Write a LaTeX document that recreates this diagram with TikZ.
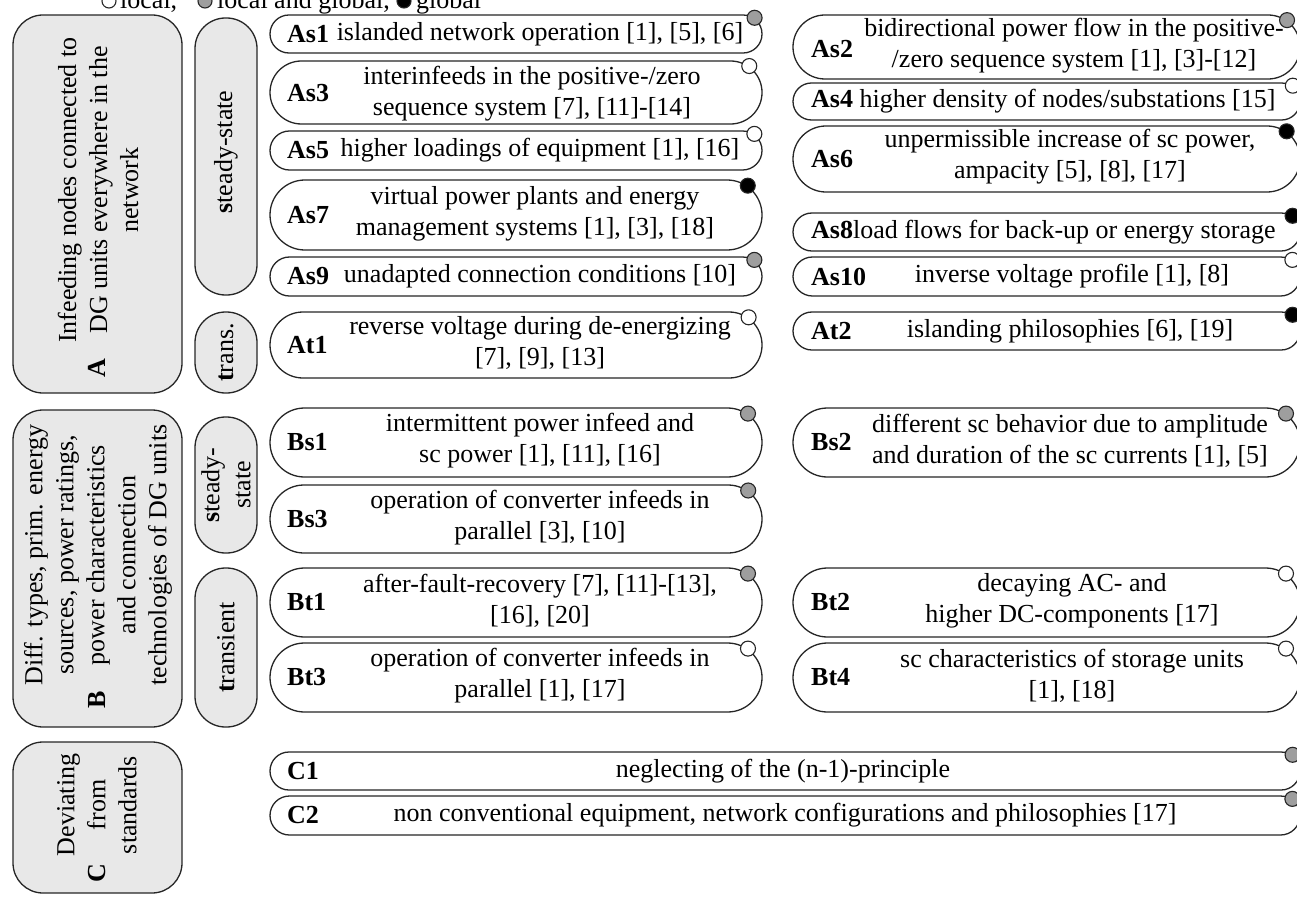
\documentclass[tikz,border=0pt]{standalone}
\usepackage{fontspec}
\setmainfont{Liberation Serif}
\tikzset{
 fs/.style={font=\fontsize{26}{31}\selectfont},
 txt/.style={fs, inner sep=0pt, align=center},
 itembox/.style={draw=black!85, line width=1.3pt, fill=white, rectangle, inner sep=0pt},
 grpbox/.style={draw=black!85, line width=1.3pt, fill=black!9, rectangle, rounded corners=30pt, inner sep=0pt, minimum width=169pt},
 pill/.style={draw=black!85, line width=1.3pt, fill=black!9, rectangle, rounded corners=30.5pt, inner sep=0pt, minimum width=62pt},
 mdot/.style={circle, draw=black!85, line width=1.1pt, minimum size=15pt, inner sep=0pt},
}
\definecolor{dgray}{gray}{0.62}
\newcommand\mkbox[6]{%
 \pgfmathsetmacro\bxcx{(#2+#4)/2}%
 \pgfmathsetmacro\bxcy{(#3+#5)/2}%
 \pgfmathsetmacro\bxw{#4-#2}%
 \pgfmathsetmacro\bxh{#5-#3}%
 \pgfmathsetmacro\bxr{\bxh/2-0.05}%
 \pgfmathsetmacro\bxdx{-0.426*\bxr}%
 \pgfmathsetmacro\bxdy{-0.181*\bxr}%
 \node[itembox, rounded corners=\bxr pt, minimum width=\bxw pt, minimum height=\bxh pt] (#1) at (\bxcx,\bxcy) {};%
 \node[mdot, fill=#6] (#1d) at ([xshift=\bxdx pt, yshift=\bxdy pt]#1.north east) {};%
}
\begin{document}
\begin{tikzpicture}[x=1pt,y=-1pt]
\useasboundingbox (0,0) rectangle (1297,896);

% legend
\node[mdot, fill=white, minimum size=14pt] (L1) at (109,1) {};
\node[fs, inner sep=0pt, anchor=base west] (L1t) at (120,9) {local,};
\node[mdot, fill=dgray, minimum size=14pt] (L2) at (205,1) {};
\node[fs, inner sep=0pt, anchor=base west] (L2t) at (217,9) {local and global,};
\node[mdot, fill=black, minimum size=14pt] (L3) at (404,1) {};
\node[fs, inner sep=0pt, anchor=base west] (L3t) at (416,9) {global};

% group boxes
\node[grpbox, minimum height=378pt] (A) at (97.5,204) {};
\node[grpbox, minimum height=317pt] (B) at (97.5,568.5) {};
\node[grpbox, minimum height=151pt] (C) at (97.5,817.5) {};
\node[txt, rotate=90] (At) at (98,190) {Infeeding nodes connected to\\DG units everywhere in the\\network};
\node[txt, rotate=90] (Al) at (97,368) {\textbf{A}};
\node[txt, rotate=90] (Bt) at (98,555) {Diff. types, prim. energy\\sources, power ratings,\\power characteristics\\and connection\\technologies of DG units};
\node[txt, rotate=90] (Bl) at (97,700) {\textbf{B}};
\node[txt, rotate=90] (Ct) at (97,805) {Deviating\\from\\standards};
\node[txt, rotate=90] (Cl) at (97,873) {\textbf{C}};

% pills
\node[pill, minimum height=277pt] (Ass) at (226,156.5) {};
\node[txt, rotate=90] (Asst) at (226,152) {\textbf{s}teady-state};
\node[pill, minimum height=81pt] (Atr) at (226,352.5) {};
\node[txt, rotate=90] (Atrt) at (226,352.5) {\textbf{t}rans.};
\node[pill, minimum height=136pt] (Bss) at (226,485) {};
\node[txt, rotate=90] (Bsst) at (226,485) {\textbf{s}teady-\\state};
\node[pill, minimum height=159pt] (Btr) at (226,647.5) {};
\node[txt, rotate=90] (Btrt) at (226,647.5) {\textbf{t}ransient};

% left column
\mkbox{As1}{270}{15}{762}{53}{dgray}
\node[txt, anchor=west] (As1l) at (287,34) {\textbf{As1}};
\node[txt] (As1t) at (540,34) {islanded network operation [1], [5], [6]};
\mkbox{As3}{270}{61}{762}{124}{white}
\node[txt, anchor=west] (As3l) at (287,93) {\textbf{As3}};
\node[txt] (As3t) at (532,94) {interinfeeds in the positive-/zero\\sequence system [7], [11]-[14]};
\mkbox{As5}{270}{131}{762}{170}{white}
\node[txt, anchor=west] (As5l) at (287,150.5) {\textbf{As5}};
\node[txt] (As5t) at (540,150.5) {higher loadings of equipment [1], [16]};
\mkbox{As7}{270}{180}{762}{250}{black}
\node[txt, anchor=west] (As7l) at (287,215) {\textbf{As7}};
\node[txt] (As7t) at (535,214) {virtual power plants and energy\\management systems [1], [3], [18]};
\mkbox{As9}{270}{257}{762}{296}{dgray}
\node[txt, anchor=west] (As9l) at (287,276.5) {\textbf{As9}};
\node[txt] (As9t) at (540,276.5) {unadapted connection conditions [10]};
\mkbox{At1}{270}{312}{762}{378}{white}
\node[txt, anchor=west] (At1l) at (287,345) {\textbf{At1}};
\node[txt] (At1t) at (540,343) {reverse voltage during de-energizing\\{[7], [9], [13]}};
\mkbox{Bs1}{270}{408}{762}{477}{dgray}
\node[txt, anchor=west] (Bs1l) at (287,442.5) {\textbf{Bs1}};
\node[txt] (Bs1t) at (540,441) {intermittent power infeed and\\sc power [1], [11], [16]};
\mkbox{Bs3}{270}{485}{762}{553}{dgray}
\node[txt, anchor=west] (Bs3l) at (287,519) {\textbf{Bs3}};
\node[txt] (Bs3t) at (540,518) {operation of converter infeeds in\\parallel [3], [10]};
\mkbox{Bt1}{270}{568}{762}{637}{dgray}
\node[txt, anchor=west] (Bt1l) at (287,602.5) {\textbf{Bt1}};
\node[txt] (Bt1t) at (540,601) {after-fault-recovery [7], [11]-[13],\\{[16], [20]}};
\mkbox{Bt3}{270}{643}{762}{712}{white}
\node[txt, anchor=west] (Bt3l) at (287,677.5) {\textbf{Bt3}};
\node[txt] (Bt3t) at (540,676) {operation of converter infeeds in\\parallel [1], [17]};

% right column
\mkbox{As2}{793}{15}{1300}{79}{dgray}
\node[txt, anchor=west] (As2l) at (811,49) {\textbf{As2}};
\node[txt] (As2t) at (1074,46) {bidirectional power flow in the positive-\\/zero sequence system [1], [3]-[12]};
\mkbox{As4}{793}{83}{1300}{120}{white}
\node[txt, anchor=west] (As4t) at (811,101.5) {\textbf{As4} higher density of nodes/substations [15]};
\mkbox{As6}{793}{126}{1300}{192}{black}
\node[txt, anchor=west] (As6l) at (811,159) {\textbf{As6}};
\node[txt] (As6t) at (1070,157) {unpermissible increase of sc power,\\ampacity [5], [8], [17]};
\mkbox{As8}{793}{213}{1300}{251}{black}
\node[txt, anchor=west] (As8t) at (811,232) {\textbf{As8}load flows for back-up or energy storage};
\mkbox{As10}{793}{257}{1300}{296}{white}
\node[txt, anchor=west] (As10l) at (811,276.5) {\textbf{As10}};
\node[txt] (As10t) at (1072,276.5) {inverse voltage profile [1], [8]};
\mkbox{At2}{793}{312}{1300}{350}{black}
\node[txt, anchor=west] (At2l) at (811,331) {\textbf{At2}};
\node[txt] (At2t) at (1070,331) {islanding philosophies [6], [19]};
\mkbox{Bs2}{793}{408}{1300}{477}{dgray}
\node[txt, anchor=west] (Bs2l) at (811,442.5) {\textbf{Bs2}};
\node[txt] (Bs2t) at (1070,441) {different sc behavior due to amplitude\\and duration of the sc currents [1], [5]};
\mkbox{Bt2}{793}{568}{1300}{637}{white}
\node[txt, anchor=west] (Bt2l) at (811,602.5) {\textbf{Bt2}};
\node[txt] (Bt2t) at (1072,601) {decaying AC- and\\higher DC-components [17]};
\mkbox{Bt4}{793}{643}{1300}{712}{white}
\node[txt, anchor=west] (Bt4l) at (811,677.5) {\textbf{Bt4}};
\node[txt] (Bt4t) at (1072,676) {sc characteristics of storage units\\{[1], [18]}};

% C rows
\mkbox{C1}{270}{752}{1300}{790}{dgray}
\node[txt, anchor=west] (C1l) at (287,771) {\textbf{C1}};
\node[txt] (C1t) at (783,771) {neglecting of the (n-1)-principle};
\mkbox{C2}{270}{796}{1300}{835}{dgray}
\node[txt, anchor=west] (C2l) at (287,815.5) {\textbf{C2}};
\node[txt] (C2t) at (785,815.5) {non conventional equipment, network configurations and philosophies [17]};
\end{tikzpicture}
\end{document}
